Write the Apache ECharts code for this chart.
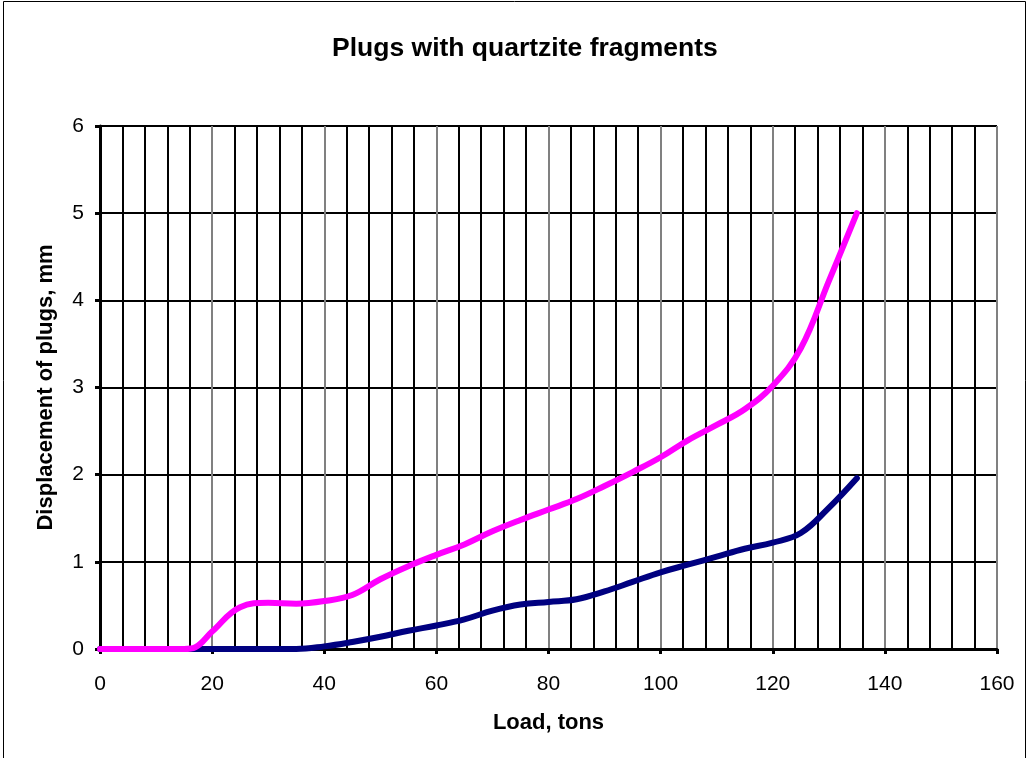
<!DOCTYPE html>
<html><head><meta charset="utf-8">
<script src="https://cdn.jsdelivr.net/npm/echarts@6/dist/echarts.min.js"></script>
<style>html,body{margin:0;padding:0;background:#fff}#c{width:1029px;height:758px}</style>
</head><body><div id="c"></div>
<script>
var loads = [0,5,10,15,17,20,25,30,35,40,45,50,55,60,65,70,75,80,85,90,95,100,105,110,115,120,125,130,135];
var pinkVals = [0,0,0,0,0.02,0.2,0.48,0.53,0.52,0.55,0.62,0.8,0.95,1.08,1.2,1.35,1.48,1.6,1.72,1.87,2.03,2.2,2.4,2.57,2.75,3.02,3.45,4.22,5.0];
var navyVals = [0,0,0,0,0,0,0,0,0,0.03,0.08,0.14,0.21,0.27,0.34,0.44,0.51,0.54,0.57,0.66,0.77,0.88,0.97,1.06,1.15,1.22,1.33,1.62,1.96];
var titleText = 'Plugs with quartzite fragments';
var xName = 'Load, tons';
var yName = 'Displacement of plugs, mm';

function pairs(xs, ys){ return xs.map(function(x,i){ return [x, ys[i]]; }); }

var chart = echarts.init(document.getElementById('c'), null, {renderer:'canvas'});
var font = 'Liberation Sans, Arial, sans-serif';
chart.setOption({
  animation:false,
  backgroundColor:'#fff',
  graphic:[{type:'rect', shape:{x:3.5,y:1.5,width:1022,height:800}, style:{fill:'none', stroke:'#000', lineWidth:1}, z:-1}],
  title:{text:titleText, left:332, top:35, padding:0, textStyle:{fontFamily:font, fontSize:26.5, fontWeight:'bold', color:'#000'}},
  grid:{left:100, right:32, top:126, bottom:109, containLabel:false},
  xAxis:{type:'value', min:0, max:160, interval:20,
    name:xName, nameLocation:'middle', nameGap:63,
    nameTextStyle:{fontFamily:font, fontSize:22, fontWeight:'bold', color:'#000'},
    axisLine:{show:true, onZero:false, lineStyle:{color:'#000', width:3}},
    axisTick:{show:true, length:5, lineStyle:{color:'#000', width:3}},
    axisLabel:{margin:25, fontFamily:font, fontSize:21, color:'#000'},
    splitLine:{show:true, lineStyle:{color:'#808080', width:2}},
    minorTick:{show:false, splitNumber:5},
    minorSplitLine:{show:true, lineStyle:{color:'#000', width:2}}
  },
  yAxis:{type:'value', min:0, max:6, interval:1,
    name:yName, nameLocation:'middle', nameGap:43,
    nameTextStyle:{fontFamily:font, fontSize:22, fontWeight:'bold', color:'#000'},
    axisLine:{show:true, lineStyle:{color:'#000', width:3}},
    axisTick:{show:true, length:5, lineStyle:{color:'#000', width:3}},
    axisLabel:{margin:16, fontFamily:font, fontSize:21, color:'#000'},
    splitLine:{show:true, lineStyle:{color:'#000', width:2}}
  },
  series:[
    {type:'line', data:pairs(loads, navyVals), smooth:0.4, symbol:'none', lineStyle:{color:'#000080', width:6, cap:'round'}, z:3},
    {type:'line', data:pairs(loads, pinkVals), smooth:0.4, symbol:'none', lineStyle:{color:'#FF00FF', width:6, cap:'round'}, z:4}
  ]
});
</script></body></html>
